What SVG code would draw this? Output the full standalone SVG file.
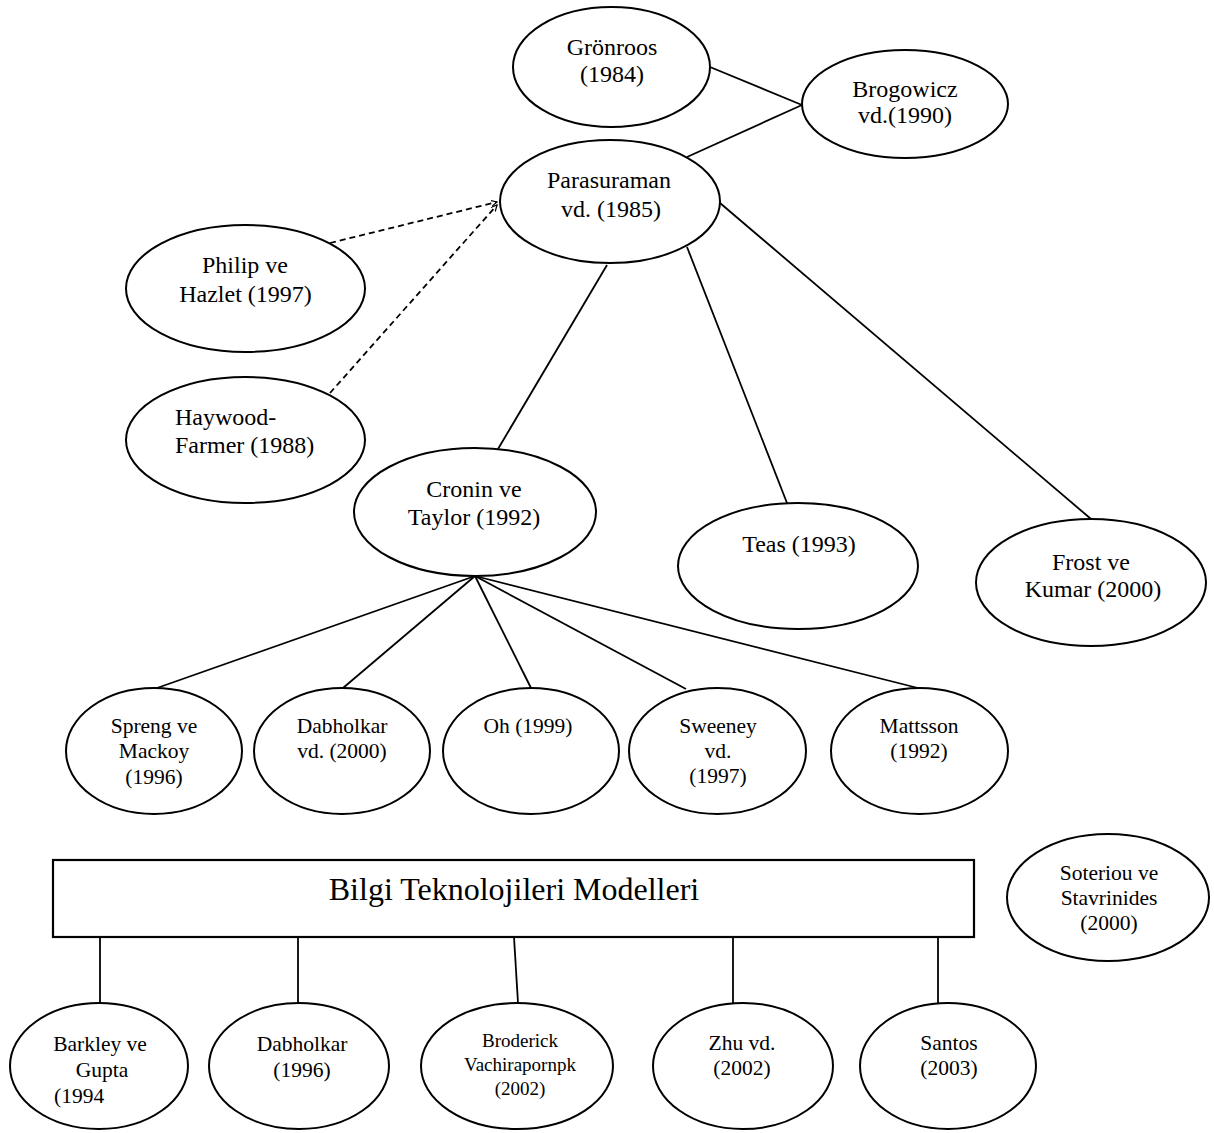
<svg xmlns="http://www.w3.org/2000/svg" width="1214" height="1133" viewBox="0 0 1214 1133">
<style>
  .n { fill: none; stroke: #000; stroke-width: 2; }
  .box { fill: #fff; stroke: #000; stroke-width: 2.2; }
  .c { stroke: #000; stroke-width: 1.8; fill: none; }
  .d { stroke: #000; stroke-width: 1.8; fill: none; stroke-dasharray: 6 4; }
  text { font-family: "Liberation Serif", "Times New Roman", serif; fill: #000; text-anchor: middle; }
  .t24 { font-size: 24px; }
  .t21 { font-size: 21.5px; }
  .t19 { font-size: 19px; }
  .t32 { font-size: 32px; }
</style>
<defs>
  <marker id="tip" markerUnits="userSpaceOnUse" markerWidth="8" markerHeight="8" refX="6" refY="3" orient="auto">
    <path d="M0,0 L6,3 L0,6" fill="none" stroke="#000" stroke-width="1.2"/>
  </marker>
</defs>
<rect width="1214" height="1133" fill="#fff"/>

<g id="connectors">
  <line class="c" x1="710" y1="67" x2="802" y2="105"/>
  <line class="c" x1="687" y1="157" x2="802" y2="105"/>
  <line class="d" x1="330" y1="243" x2="497" y2="202" marker-end="url(#tip)"/>
  <line class="d" x1="330" y1="393" x2="497" y2="205" marker-end="url(#tip)"/>
  <line class="c" x1="607" y1="265" x2="498" y2="449"/>
  <line class="c" x1="687" y1="247" x2="787" y2="503"/>
  <line class="c" x1="720" y1="203" x2="1091" y2="519"/>
  <line class="c" x1="475" y1="576" x2="157" y2="688"/>
  <line class="c" x1="475" y1="576" x2="343" y2="688"/>
  <line class="c" x1="475" y1="576" x2="531" y2="688"/>
  <line class="c" x1="475" y1="576" x2="686" y2="689"/>
  <line class="c" x1="475" y1="576" x2="918" y2="688"/>
  <line class="c" x1="100" y1="937" x2="100" y2="1003"/>
  <line class="c" x1="298" y1="937" x2="298" y2="1003"/>
  <line class="c" x1="514" y1="937" x2="518" y2="1003"/>
  <line class="c" x1="733" y1="937" x2="733" y2="1004"/>
  <line class="c" x1="938" y1="937" x2="938" y2="1004"/>
</g>

<g id="gronroos">
  <ellipse class="n" cx="611.5" cy="67" rx="98.5" ry="60"/>
  <text class="t24" x="612" y="55">Grönroos</text>
  <text class="t24" x="612" y="82">(1984)</text>
</g>
<g id="brogowicz">
  <ellipse class="n" cx="905" cy="104" rx="103" ry="54"/>
  <text class="t24" x="905" y="97">Brogowicz</text>
  <text class="t24" x="905" y="123">vd.(1990)</text>
</g>
<g id="parasuraman">
  <ellipse class="n" cx="610" cy="201.5" rx="110" ry="61.5"/>
  <text class="t24" x="609" y="188">Parasuraman</text>
  <text class="t24" x="611" y="217">vd. (1985)</text>
</g>
<g id="philip">
  <ellipse class="n" cx="245.5" cy="288.5" rx="119.5" ry="63.5"/>
  <text class="t24" x="245" y="273">Philip ve</text>
  <text class="t24" x="245.5" y="302">Hazlet (1997)</text>
</g>
<g id="haywood">
  <ellipse class="n" cx="245.5" cy="440" rx="119.5" ry="63"/>
  <text class="t24" x="175" y="425" style="text-anchor:start">Haywood-</text>
  <text class="t24" x="175" y="453" style="text-anchor:start">Farmer (1988)</text>
</g>
<g id="cronin">
  <ellipse class="n" cx="475" cy="512" rx="121" ry="64"/>
  <text class="t24" x="474" y="497">Cronin ve</text>
  <text class="t24" x="474" y="525">Taylor (1992)</text>
</g>
<g id="teas">
  <ellipse class="n" cx="798" cy="566" rx="120" ry="63"/>
  <text class="t24" x="799" y="552">Teas (1993)</text>
</g>
<g id="frost">
  <ellipse class="n" cx="1091" cy="582.5" rx="115" ry="63.5"/>
  <text class="t24" x="1091" y="570">Frost ve</text>
  <text class="t24" x="1093" y="597">Kumar (2000)</text>
</g>

<g id="spreng">
  <ellipse class="n" cx="154" cy="751" rx="88" ry="63"/>
  <text class="t21" x="154" y="733">Spreng ve</text>
  <text class="t21" x="154" y="758">Mackoy</text>
  <text class="t21" x="154" y="784">(1996)</text>
</g>
<g id="dabholkar2000">
  <ellipse class="n" cx="342" cy="751" rx="88" ry="63"/>
  <text class="t21" x="342" y="733">Dabholkar</text>
  <text class="t21" x="342" y="758">vd. (2000)</text>
</g>
<g id="oh">
  <ellipse class="n" cx="531" cy="751" rx="88" ry="63"/>
  <text class="t21" x="528" y="733">Oh (1999)</text>
</g>
<g id="sweeney">
  <ellipse class="n" cx="717.5" cy="751" rx="88.5" ry="63"/>
  <text class="t21" x="718" y="733">Sweeney</text>
  <text class="t21" x="718" y="758">vd.</text>
  <text class="t21" x="718" y="783">(1997)</text>
</g>
<g id="mattsson">
  <ellipse class="n" cx="919.5" cy="751" rx="88.5" ry="63"/>
  <text class="t21" x="919" y="733">Mattsson</text>
  <text class="t21" x="919" y="758">(1992)</text>
</g>
<g id="soteriou">
  <ellipse class="n" cx="1108" cy="897.5" rx="101" ry="63.5"/>
  <text class="t21" x="1109" y="880">Soteriou ve</text>
  <text class="t21" x="1109" y="905">Stavrinides</text>
  <text class="t21" x="1109" y="930">(2000)</text>
</g>

<g id="bilgi">
  <rect class="box" x="53" y="860" width="921" height="77"/>
  <text class="t32" x="514" y="900">Bilgi Teknolojileri Modelleri</text>
</g>

<g id="barkley">
  <ellipse class="n" cx="99" cy="1066" rx="89" ry="63"/>
  <text class="t21" x="100" y="1051">Barkley ve</text>
  <text class="t21" x="102" y="1077">Gupta</text>
  <text class="t21" x="54" y="1103" style="text-anchor:start">(1994</text>
</g>
<g id="dabholkar1996">
  <ellipse class="n" cx="299" cy="1066" rx="90" ry="63"/>
  <text class="t21" x="302" y="1051">Dabholkar</text>
  <text class="t21" x="302" y="1077">(1996)</text>
</g>
<g id="broderick">
  <ellipse class="n" cx="517" cy="1066" rx="96" ry="63"/>
  <text class="t19" x="520" y="1047">Broderick</text>
  <text class="t19" x="520" y="1071">Vachirapornpk</text>
  <text class="t19" x="520" y="1095">(2002)</text>
</g>
<g id="zhu">
  <ellipse class="n" cx="743" cy="1066" rx="90" ry="63"/>
  <text class="t21" x="742" y="1050">Zhu vd.</text>
  <text class="t21" x="742" y="1075">(2002)</text>
</g>
<g id="santos">
  <ellipse class="n" cx="948" cy="1066" rx="88" ry="63"/>
  <text class="t21" x="949" y="1050">Santos</text>
  <text class="t21" x="949" y="1075">(2003)</text>
</g>
</svg>
